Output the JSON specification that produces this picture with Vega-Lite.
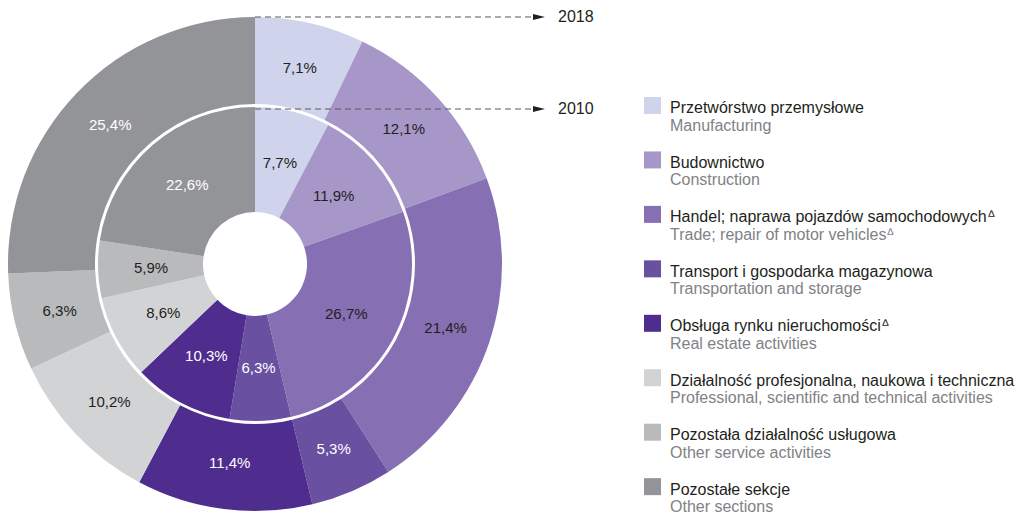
{
  "$schema": "https://vega.github.io/schema/vega-lite/v6.json",
  "padding": {"left": 8, "top": 9, "right": 0, "bottom": 0},
  "bounds": "flush",
  "spacing": 142,
  "background": "white",
  "config": {"view": {"stroke": null}, "font": "Liberation Sans", "text": {"font": "Liberation Sans"}},
  "datasets": {
    "sectors": [
      {"ord": 1, "cat": "Przetwórstwo przemysłowe", "en": "Manufacturing", "year": 2018, "v": 7.1},
      {"ord": 2, "cat": "Budownictwo", "en": "Construction", "year": 2018, "v": 12.1},
      {"ord": 3, "cat": "Handel; naprawa pojazdów samochodowychᐞ", "en": "Trade; repair of motor vehiclesᐞ", "year": 2018, "v": 21.4},
      {"ord": 4, "cat": "Transport i gospodarka magazynowa", "en": "Transportation and storage", "year": 2018, "v": 5.3},
      {"ord": 5, "cat": "Obsługa rynku nieruchomościᐞ", "en": "Real estate activities", "year": 2018, "v": 11.4},
      {"ord": 6, "cat": "Działalność profesjonalna, naukowa i techniczna", "en": "Professional, scientific and technical activities", "year": 2018, "v": 10.2},
      {"ord": 7, "cat": "Pozostała działalność usługowa", "en": "Other service activities", "year": 2018, "v": 6.3},
      {"ord": 8, "cat": "Pozostałe sekcje", "en": "Other sections", "year": 2018, "v": 25.4},
      {"ord": 1, "cat": "Przetwórstwo przemysłowe", "en": "Manufacturing", "year": 2010, "v": 7.7},
      {"ord": 2, "cat": "Budownictwo", "en": "Construction", "year": 2010, "v": 11.9},
      {"ord": 3, "cat": "Handel; naprawa pojazdów samochodowychᐞ", "en": "Trade; repair of motor vehiclesᐞ", "year": 2010, "v": 26.7},
      {"ord": 4, "cat": "Transport i gospodarka magazynowa", "en": "Transportation and storage", "year": 2010, "v": 6.3},
      {"ord": 5, "cat": "Obsługa rynku nieruchomościᐞ", "en": "Real estate activities", "year": 2010, "v": 10.3},
      {"ord": 6, "cat": "Działalność profesjonalna, naukowa i techniczna", "en": "Professional, scientific and technical activities", "year": 2010, "v": 8.6},
      {"ord": 7, "cat": "Pozostała działalność usługowa", "en": "Other service activities", "year": 2010, "v": 5.9},
      {"ord": 8, "cat": "Pozostałe sekcje", "en": "Other sections", "year": 2010, "v": 22.6}
    ]
  },
  "hconcat": [
    {
      "width": 494,
      "height": 494,
      "data": {"name": "sectors"},
      "layer": [
        {
          "transform": [{"filter": "datum.year == 2018"}],
          "mark": {"type": "arc", "radius": 247, "radius2": 160},
          "encoding": {
            "theta": {"field": "v", "type": "quantitative", "stack": "normalize"},
            "order": {"field": "ord", "type": "quantitative"},
            "color": {"field": "cat", "type": "nominal", "legend": null,
              "scale": {"domain": ["Przetwórstwo przemysłowe", "Budownictwo", "Handel; naprawa pojazdów samochodowychᐞ", "Transport i gospodarka magazynowa", "Obsługa rynku nieruchomościᐞ", "Działalność profesjonalna, naukowa i techniczna", "Pozostała działalność usługowa", "Pozostałe sekcje"],
                "range": ["#cfd3eb", "#a797c8", "#8670b3", "#6a50a1", "#4f2d8f", "#d2d3d5", "#b9babc", "#939497"]}}
          }
        },
        {
          "transform": [{"filter": "datum.year == 2010"}],
          "mark": {"type": "arc", "radius": 157, "radius2": 52},
          "encoding": {
            "theta": {"field": "v", "type": "quantitative", "stack": "normalize"},
            "order": {"field": "ord", "type": "quantitative"},
            "color": {"field": "cat", "type": "nominal", "legend": null}
          }
        },
        {
          "transform": [{"filter": "datum.year == 2018"}, {"calculate": "replace(format(datum.v, '.1f'), '.', ',') + '%'", "as": "label"}],
          "mark": {"type": "text", "radius": 201, "fontSize": 15, "align": "center", "baseline": "middle"},
          "encoding": {
            "theta": {"field": "v", "type": "quantitative", "stack": "normalize"},
            "order": {"field": "ord", "type": "quantitative"},
            "text": {"field": "label"},
            "color": {"condition": {"test": "datum.ord == 4 || datum.ord == 5 || datum.ord == 8", "value": "white"}, "value": "#231f20"}
          }
        },
        {
          "transform": [{"filter": "datum.year == 2010"}, {"calculate": "replace(format(datum.v, '.1f'), '.', ',') + '%'", "as": "label"}],
          "mark": {"type": "text", "radius": 104, "fontSize": 15, "align": "center", "baseline": "middle"},
          "encoding": {
            "theta": {"field": "v", "type": "quantitative", "stack": "normalize"},
            "order": {"field": "ord", "type": "quantitative"},
            "text": {"field": "label"},
            "color": {"condition": {"test": "datum.ord == 4 || datum.ord == 5 || datum.ord == 8", "value": "white"}, "value": "#231f20"}
          }
        },
        {
          "data": {"values": [{"year": "2018"}, {"year": "2010"}]},
          "mark": {"type": "rule", "strokeDash": [6, 4], "color": "#58595b", "strokeWidth": 1.2},
          "encoding": {
            "x": {"datum": 0, "type": "quantitative", "scale": {"domain": [-247, 247], "nice": false, "zero": false}, "axis": null},
            "x2": {"datum": 279},
            "y": {"field": "year", "type": "nominal", "scale": {"type": "point", "domain": ["2018", "2010"], "range": [0, 92], "padding": 0}, "axis": null}
          }
        },
        {
          "data": {"values": [{"year": "2018"}, {"year": "2010"}]},
          "mark": {"type": "point", "shape": "M-1,-0.5L1,0L-1,0.5Z", "filled": true, "size": 144, "color": "#231f20", "opacity": 1},
          "encoding": {
            "x": {"datum": 284, "type": "quantitative"},
            "y": {"field": "year", "type": "nominal"}
          }
        },
        {
          "data": {"values": [{"year": "2018"}, {"year": "2010"}]},
          "mark": {"type": "text", "align": "left", "baseline": "middle", "fontSize": 16, "color": "#231f20"},
          "encoding": {
            "x": {"datum": 303, "type": "quantitative"},
            "y": {"field": "year", "type": "nominal"},
            "text": {"field": "year"}
          }
        }
      ]
    },
    {
      "width": 374,
      "height": 494,
      "data": {"name": "sectors"},
      "transform": [{"filter": "datum.year == 2018"}],
      "layer": [
        {
          "mark": {"type": "square", "size": 289, "filled": true, "opacity": 1},
          "encoding": {
            "x": {"datum": 8.5, "type": "quantitative", "scale": {"domain": [0, 374], "nice": false, "zero": false}, "axis": null},
            "y": {"field": "ord", "type": "quantitative", "scale": {"domain": [-0.625, 8.447], "reverse": true, "nice": false, "zero": false}, "axis": null},
            "color": {"field": "cat", "type": "nominal", "legend": null,
              "scale": {"domain": ["Przetwórstwo przemysłowe", "Budownictwo", "Handel; naprawa pojazdów samochodowychᐞ", "Transport i gospodarka magazynowa", "Obsługa rynku nieruchomościᐞ", "Działalność profesjonalna, naukowa i techniczna", "Pozostała działalność usługowa", "Pozostałe sekcje"],
                "range": ["#cfd3eb", "#a797c8", "#8670b3", "#6a50a1", "#4f2d8f", "#d2d3d5", "#b9babc", "#939497"]}}
          }
        },
        {
          "mark": {"type": "text", "align": "left", "baseline": "middle", "dy": 3, "fontSize": 16, "color": "#231f20"},
          "encoding": {
            "x": {"datum": 26, "type": "quantitative"},
            "y": {"field": "ord", "type": "quantitative"},
            "text": {"field": "cat"}
          }
        },
        {
          "mark": {"type": "text", "align": "left", "baseline": "middle", "dy": 20.5, "fontSize": 16, "color": "#808285"},
          "encoding": {
            "x": {"datum": 26, "type": "quantitative"},
            "y": {"field": "ord", "type": "quantitative"},
            "text": {"field": "en"}
          }
        }
      ]
    }
  ]
}
